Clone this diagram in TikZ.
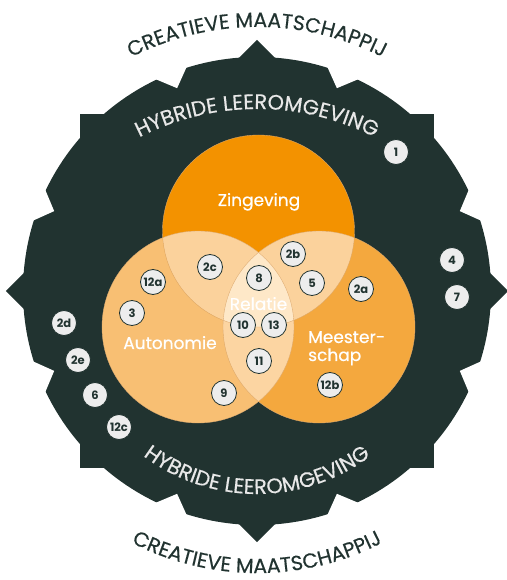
\documentclass[tikz,border=0pt]{standalone}
\usepackage{fontspec}
\setmainfont{Poppins}
\newfontfamily\popm[FakeBold=0.6]{Poppins}
\newfontfamily\popa[FakeBold=0.4]{Poppins}
\usetikzlibrary{decorations.text,calc}
\definecolor{dk}{HTML}{213330}
\definecolor{orT}{HTML}{F39200}
\definecolor{orL}{HTML}{F8BF73}
\definecolor{orR}{HTML}{F4A83E}
\definecolor{ovTL}{HTML}{FBD29C}
\definecolor{ovLR}{HTML}{FCD5A2}
\definecolor{ovAll}{HTML}{FEE8C8}
\definecolor{edge}{HTML}{DDAA70}
\definecolor{badgefill}{HTML}{EDEDED}
\definecolor{arcw}{HTML}{E8E8E8}
\begin{document}
\begin{tikzpicture}[x=1pt,y=1pt,
  badge/.style={circle,fill=badgefill,draw=dk,line width=0.8pt,minimum size=25pt,inner sep=0pt,
    font=\fontsize{11.5}{11.5}\selectfont\bfseries,text=dk},
  lbl/.style={text=white,font=\popm\fontsize{17}{17}\selectfont,inner sep=0pt},
  ring/.style={draw=edge,line width=0.35pt}]
\useasboundingbox (-257,-289) rectangle (249,291);
% gear-like background
\fill[dk] (0,0) circle[radius=234];
\fill[dk] (-177,-177) rectangle (177,177);
\fill[dk] (0,251) -- (251,0) -- (0,-251) -- (-251,0) -- cycle;
\foreach \c in {21.5,68.5,111.5,158.5,201.5,248.5,291.5,338.5}{
  \pgfmathsetmacro{\ca}{\c-4}
  \pgfmathsetmacro{\cb}{\c+4}
  \coordinate (ap) at (\c:218);
  \coordinate (pa) at (\ca:234.5);
  \coordinate (pb) at (\cb:234.5);
  \fill[white] (ap) -- ($(ap)!1.8!(pa)$) -- ($(ap)!1.8!(pb)$) -- cycle;
}
% circles
\coordinate (cT) at (1.5,60);
\coordinate (cL) at (-59,-36);
\coordinate (cR) at (62,-36);
\fill[orL] (cL) circle[radius=96];
\fill[orR] (cR) circle[radius=96];
\fill[orT] (cT) circle[radius=96];
\begin{scope}
  \clip (cL) circle[radius=96];
  \fill[ovTL] (cT) circle[radius=96];
  \fill[ovLR] (cR) circle[radius=96];
\end{scope}
\begin{scope}
  \clip (cR) circle[radius=96];
  \fill[ovTL] (cT) circle[radius=96];
\end{scope}
\begin{scope}
  \clip (cL) circle[radius=96];
  \clip (cR) circle[radius=96];
  \fill[ovAll] (cT) circle[radius=96];
\end{scope}
\draw[ring] (cL) circle[radius=96];
\draw[ring] (cR) circle[radius=96];
\draw[ring] (cT) circle[radius=96];
% arc texts
\path[decorate,decoration={text along path,text align=center,text color=dk,
  text={|\popa\fontsize{20.5}{20.5}\selectfont|CREATIEVE MAATSCHAPPIJ}}]
  (0,-11) ++(150:275) arc[start angle=150,end angle=30,radius=275];
\path[decorate,decoration={text along path,text align=center,text color=dk,
  text={|\popa\fontsize{20.5}{20.5}\selectfont|CREATIEVE MAATSCHAPPIJ}}]
  (0,-7) ++(210:275) arc[start angle=210,end angle=330,radius=275];
\path[decorate,decoration={text along path,text align=center,text color=arcw,
  text={|\popa\fontsize{21}{21}\selectfont|HYBRIDE LEEROMGEVING}}]
  (0,-76) ++(140:258) arc[start angle=140,end angle=40,radius=258];
\path[decorate,decoration={text along path,text align=center,text color=arcw,
  text={|\popa\fontsize{21}{21}\selectfont|HYBRIDE LEEROMGEVING}}]
  (0,-14) ++(220:189) arc[start angle=220,end angle=320,radius=189];
% labels
\node[lbl,anchor=base] (zing) at (2,85) {Zingeving};
\node[lbl,anchor=base] (auto) at (-87,-58) {Autonomie};
\node[lbl,anchor=base] (rel) at (1.5,-19) {Relatie};
\node[lbl,anchor=base west] (mees) at (51,-52) {Meester-};
\node[lbl,anchor=base west] (schap) at (51,-70) {schap};
% badges
\node[badge] (b1) at (139,139) {1};
\node[badge] (b4) at (195,31) {4};
\node[badge] (b7) at (200,-6) {7};
\node[badge] (b2d) at (-193,-32) {2d};
\node[badge] (b2e) at (-179,-69) {2e};
\node[badge] (b6) at (-162,-104) {6};
\node[badge] (b12c) at (-138,-136) {12c};
\node[badge] (b12a) at (-104,9) {12a};
\node[badge] (b3) at (-125,-22) {3};
\node[badge] (b2c) at (-47,24) {2c};
\node[badge] (b8) at (2,13) {8};
\node[badge] (b2b) at (36,37) {2b};
\node[badge] (b5) at (55,8) {5};
\node[badge] (b2a) at (104,2) {2a};
\node[badge] (b10) at (-14,-34) {10};
\node[badge] (b13) at (17,-34) {13};
\node[badge] (b11) at (2,-70) {11};
\node[badge] (b9) at (-33,-102) {9};
\node[badge] (b12b) at (73,-94) {12b};
\end{tikzpicture}
\end{document}
